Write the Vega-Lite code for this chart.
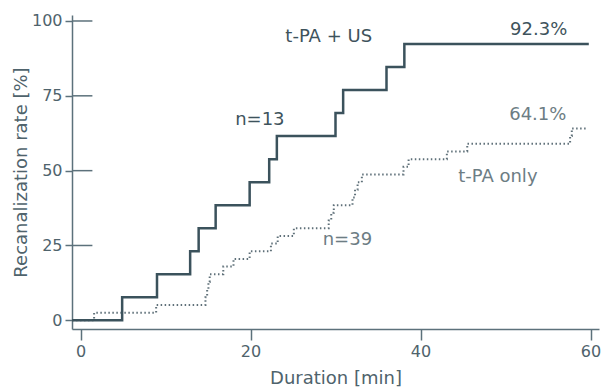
{
  "$schema": "https://vega.github.io/schema/vega-lite/v6.json",
  "width": 527,
  "height": 314,
  "autosize": {"type": "none"},
  "padding": {"left": 72, "top": 15, "right": 3, "bottom": 60},
  "background": "white",
  "config": {
    "view": {"stroke": null},
    "font": "DejaVu Sans",
    "axis": {"grid": false, "domainColor": "#5c717b", "domainWidth": 1.5, "tickColor": "#5c717b", "tickWidth": 1.5, "labelColor": "#4f636c", "titleColor": "#4f636c", "labelFont": "DejaVu Sans", "titleFont": "DejaVu Sans", "labelFontSize": 16, "titleFontSize": 18, "titleFontWeight": "normal"}
  },
  "datasets": {
    "us": [
      {"t": -1, "r": 0},
      {"t": 4.9, "r": 7.69},
      {"t": 9.0, "r": 15.38},
      {"t": 12.9, "r": 23.08},
      {"t": 13.9, "r": 30.77},
      {"t": 15.9, "r": 38.46},
      {"t": 19.9, "r": 46.15},
      {"t": 22.2, "r": 53.85},
      {"t": 23.1, "r": 61.54},
      {"t": 30.0, "r": 69.23},
      {"t": 30.9, "r": 76.92},
      {"t": 36.0, "r": 84.62},
      {"t": 38.1, "r": 92.31},
      {"t": 59.8, "r": 92.31}
    ],
    "only": [
      {"t": -1, "r": 0},
      {"t": 1.6, "r": 2.56},
      {"t": 8.9, "r": 5.13},
      {"t": 14.7, "r": 7.69},
      {"t": 14.9, "r": 10.26},
      {"t": 15.05, "r": 12.82},
      {"t": 15.2, "r": 15.38},
      {"t": 16.8, "r": 17.95},
      {"t": 18.0, "r": 20.51},
      {"t": 19.9, "r": 23.08},
      {"t": 22.4, "r": 25.64},
      {"t": 23.2, "r": 28.21},
      {"t": 25.1, "r": 30.77},
      {"t": 29.2, "r": 33.33},
      {"t": 29.5, "r": 35.9},
      {"t": 29.8, "r": 38.46},
      {"t": 32.0, "r": 41.03},
      {"t": 32.3, "r": 43.59},
      {"t": 32.6, "r": 46.15},
      {"t": 33.1, "r": 48.72},
      {"t": 38.0, "r": 51.28},
      {"t": 38.6, "r": 53.85},
      {"t": 43.1, "r": 56.41},
      {"t": 45.5, "r": 58.97},
      {"t": 57.6, "r": 61.54},
      {"t": 57.8, "r": 64.1},
      {"t": 59.6, "r": 64.1}
    ],
    "ticks": [{"v": 0}, {"v": 25}, {"v": 50}, {"v": 75}, {"v": 100}],
    "labels": [
      {"x": 29.2, "y": 94.8, "text": "t-PA + US", "kind": "dark"},
      {"x": 53.9, "y": 97.1, "text": "92.3%", "kind": "dark"},
      {"x": 21.1, "y": 67.0, "text": "n=13", "kind": "dark"},
      {"x": 53.8, "y": 68.7, "text": "64.1%", "kind": "light"},
      {"x": 49.1, "y": 48.0, "text": "t-PA only", "kind": "light"},
      {"x": 31.4, "y": 26.9, "text": "n=39", "kind": "light"}
    ]
  },
  "layer": [
    {
      "data": {"name": "ticks"},
      "mark": {"type": "rule", "color": "#5c717b", "strokeWidth": 1.5},
      "encoding": {
        "x": {"datum": -1, "type": "quantitative"},
        "x2": {"datum": 1.4},
        "y": {"field": "v", "type": "quantitative"}
      }
    },
    {
      "data": {"name": "only"},
      "mark": {"type": "line", "interpolate": "step-after", "color": "#5f7079", "strokeWidth": 2, "strokeDash": [1.5, 2.5]},
      "encoding": {
        "x": {"field": "t", "type": "quantitative", "scale": {"domain": [-1, 61], "nice": false, "zero": false},
          "axis": {"values": [0, 20, 40, 60], "tickSize": 11, "labelPadding": 3, "title": "Duration [min]", "titleBaseline": "middle", "titleY": 49}},
        "y": {"field": "r", "type": "quantitative", "scale": {"domain": [-2.9, 102], "nice": false, "zero": false},
          "axis": {"values": [0, 25, 50, 75, 100], "tickSize": 7, "labelPadding": 3, "title": "Recanalization rate [%]", "titleBaseline": "middle", "titleX": -51}}
      }
    },
    {
      "data": {"name": "us"},
      "mark": {"type": "line", "interpolate": "step-after", "color": "#3b525c", "strokeWidth": 2.5},
      "encoding": {
        "x": {"field": "t", "type": "quantitative"},
        "y": {"field": "r", "type": "quantitative"}
      }
    },
    {
      "data": {"name": "labels"},
      "mark": {"type": "text", "font": "DejaVu Sans", "fontSize": 18, "align": "center", "baseline": "middle"},
      "encoding": {
        "x": {"field": "x", "type": "quantitative"},
        "y": {"field": "y", "type": "quantitative"},
        "text": {"field": "text"},
        "color": {"field": "kind", "type": "nominal", "scale": {"domain": ["dark", "light"], "range": ["#3e535c", "#6d7d84"]}, "legend": null}
      }
    }
  ]
}
